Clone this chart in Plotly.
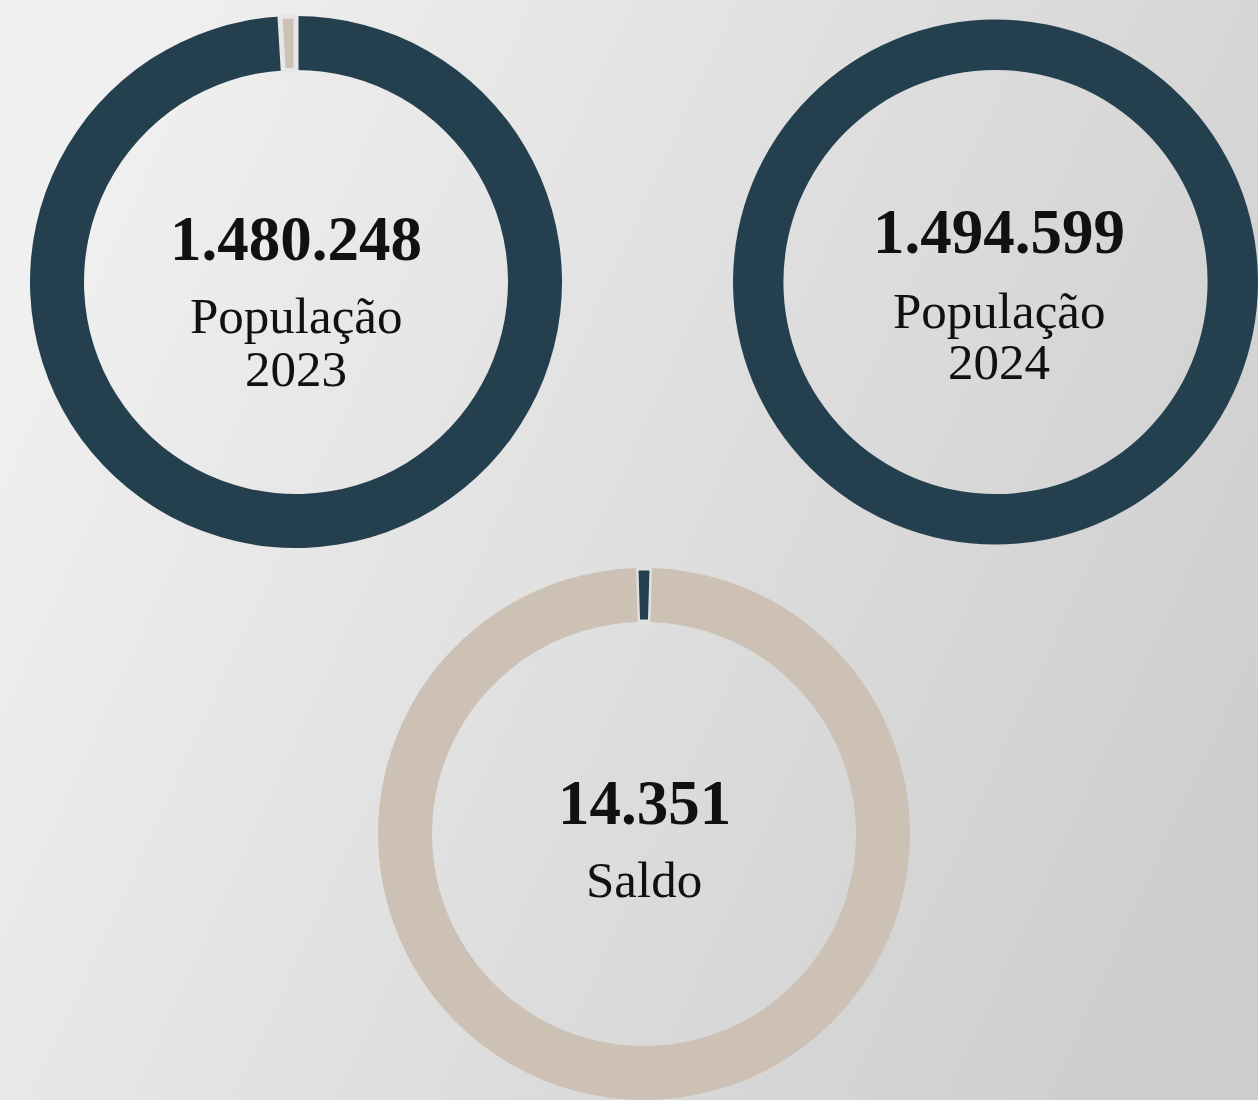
import base64
import plotly.graph_objects as go

# ---- data ----
pop_2023 = 1480248
pop_2024 = 1494599
saldo = 14351
labels_2023 = ["População 2023", "Saldo"]
values_2023 = [pop_2023, saldo]
labels_2024 = ["População 2024", "Resto"]
values_2024 = [pop_2024, 0]
labels_saldo = ["Saldo", "População 2023"]
values_saldo = [saldo, pop_2023]
number_texts = ["1.480.248", "1.494.599", "14.351"]

DARK = "#243f4e"
BEIGE = "#cdc1b5"
W, H = 1258, 1100


def px_dom(x0, x1, y0, y1):
    return dict(x=[max(0, x0 / W), min(1, x1 / W)],
                y=[max(0, 1 - y1 / H), min(1, 1 - y0 / H)])


fig = go.Figure()
fig.add_trace(go.Pie(labels=labels_2023, values=values_2023, hole=0.797,
                     sort=False, direction="clockwise", rotation=0,
                     marker=dict(colors=[DARK, BEIGE], line=dict(color="#e6e6e6", width=[0, 5])),
                     textinfo="none", hoverinfo="label+value",
                     domain=px_dom(30, 562, 16, 548)))
fig.add_trace(go.Pie(labels=labels_2024, values=values_2024, hole=0.808,
                     sort=False, direction="clockwise", rotation=0,
                     marker=dict(colors=[DARK, BEIGE], line=dict(color="#dcdcdc", width=0)),
                     textinfo="none", hoverinfo="label+value",
                     domain=px_dom(733, 1258, 16, 548)))
fig.add_trace(go.Pie(labels=labels_saldo, values=values_saldo, hole=0.797,
                     sort=False, direction="clockwise",
                     rotation=-values_saldo[0] / sum(values_saldo) * 180,
                     marker=dict(colors=[DARK, BEIGE], line=dict(color="#e0e0e0", width=[5, 0])),
                     textinfo="none", hoverinfo="label+value",
                     domain=px_dom(378, 910, 568, 1100)))

FONT = "Liberation Serif"
ann = []


def add_text(text, cx, cy, size, bold=False):
    t = f"<b>{text}</b>" if bold else text
    ann.append(dict(text=t, x=cx / W, y=1 - cy / H, xref="paper", yref="paper",
                    xanchor="center", yanchor="middle", showarrow=False,
                    font=dict(family=FONT, size=size, color="#111111")))


add_text(number_texts[0], 296, 239, 63, True)
add_text("População", 296, 316, 51)
add_text("2023", 296, 369, 51)
add_text(number_texts[1], 999, 232, 63, True)
add_text("População", 999, 311, 51)
add_text("2024", 999, 362, 51)
add_text(number_texts[2], 644, 803, 63, True)
add_text("Saldo", 644, 880, 51)

svg = (
    f'<svg xmlns="http://www.w3.org/2000/svg" width="{W}" height="{H}" viewBox="0 0 {W} {H}" preserveAspectRatio="none">'
    '<defs><linearGradient id="g" x1="0" y1="0.3" x2="1" y2="0.7">'
    '<stop offset="0" stop-color="#f0f0f0"/><stop offset="0.5" stop-color="#dfdfdf"/>'
    '<stop offset="1" stop-color="#cecece"/></linearGradient></defs>'
    f'<rect width="{W}" height="{H}" fill="url(#g)"/></svg>'
)
src = "data:image/svg+xml;base64," + base64.b64encode(svg.encode()).decode()

fig.update_layout(
    width=W, height=H, margin=dict(l=0, r=0, t=0, b=0),
    paper_bgcolor="#dedede", plot_bgcolor="#dedede",
    showlegend=False, annotations=ann,
    images=[dict(source=src, xref="paper", yref="paper", x=0, y=1,
                 sizex=1, sizey=1, sizing="stretch", xanchor="left", yanchor="top",
                 layer="below")],
)
fig.write_html(
    "out.html",
    config={"displayModeBar": False},
    post_script="document.body.style.margin='0';document.body.style.overflow='hidden';"
                "document.body.style.background='#dedede';",
)
